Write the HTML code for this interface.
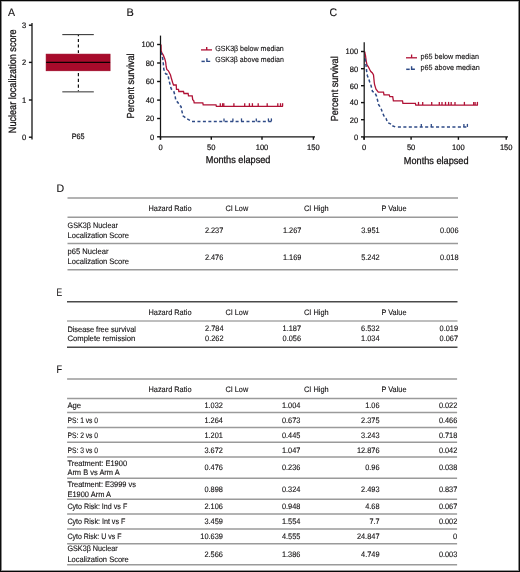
<!DOCTYPE html>
<html><head><meta charset="utf-8"><title>Figure</title>
<style>
html,body{margin:0;padding:0;background:#fff;}
body{width:520px;height:572px;overflow:hidden;}
text{stroke:#141213;stroke-width:0.12px;}
svg{display:block;font-family:"Liberation Sans", sans-serif;will-change:transform;text-rendering:geometricPrecision;}
</style></head>
<body>
<svg width="520" height="572" viewBox="0 0 520 572">
<g shape-rendering="crispEdges"><rect x="0" y="0" width="520" height="572" fill="#fff"/><rect x="1" y="1" width="518" height="1" fill="#b4b4b4"/><rect x="1" y="570" width="518" height="1" fill="#9a9a9a"/><rect x="1" y="1" width="1" height="570" fill="#8a8a8a"/><rect x="518" y="1" width="1" height="570" fill="#8a8a8a"/><rect x="0" y="0" width="520" height="1" fill="#060606"/><rect x="0" y="571" width="520" height="1" fill="#060606"/><rect x="0" y="0" width="1" height="572" fill="#0c0c0c"/><rect x="519" y="0" width="1" height="572" fill="#0c0c0c"/></g>
<text x="8.0" y="15.8" font-size="11.0" textLength="7.04" lengthAdjust="spacingAndGlyphs" fill="#141213">A</text>
<text x="126.4" y="15.8" font-size="11.0" textLength="7.3" lengthAdjust="spacingAndGlyphs" fill="#141213">B</text>
<text x="329.6" y="15.8" font-size="11.0" textLength="7.6" lengthAdjust="spacingAndGlyphs" fill="#141213">C</text>
<text x="56.6" y="192.2" font-size="11.0" textLength="7.66" lengthAdjust="spacingAndGlyphs" fill="#141213">D</text>
<text x="56.6" y="296.4" font-size="11.0" textLength="5.66" lengthAdjust="spacingAndGlyphs" fill="#141213">E</text>
<text x="56.6" y="373.3" font-size="11.0" textLength="5.6" lengthAdjust="spacingAndGlyphs" fill="#141213">F</text>
<line x1="32.0" y1="23.0" x2="32.0" y2="139.4" stroke="#151515" stroke-width="1.3"/>
<line x1="28.9" y1="25.2" x2="32.0" y2="25.2" stroke="#111" stroke-width="1.4"/>
<text x="26.1" y="28.099999999999998" font-size="7.9" text-anchor="end" textLength="4.2" lengthAdjust="spacingAndGlyphs" fill="#141213" style="stroke-width:0.2px">3</text>
<line x1="28.9" y1="62.4" x2="32.0" y2="62.4" stroke="#111" stroke-width="1.4"/>
<text x="26.1" y="65.3" font-size="7.9" text-anchor="end" textLength="4.2" lengthAdjust="spacingAndGlyphs" fill="#141213" style="stroke-width:0.2px">2</text>
<line x1="28.9" y1="100.0" x2="32.0" y2="100.0" stroke="#111" stroke-width="1.4"/>
<text x="26.1" y="102.9" font-size="7.9" text-anchor="end" textLength="4.2" lengthAdjust="spacingAndGlyphs" fill="#141213" style="stroke-width:0.2px">1</text>
<line x1="28.9" y1="137.2" x2="32.0" y2="137.2" stroke="#111" stroke-width="1.4"/>
<text x="26.1" y="140.1" font-size="7.9" text-anchor="end" textLength="4.2" lengthAdjust="spacingAndGlyphs" fill="#141213" style="stroke-width:0.2px">0</text>
<text transform="translate(16.2,81.3) rotate(-90)" x="0" y="0" font-size="10.5" text-anchor="middle" textLength="103.8" lengthAdjust="spacingAndGlyphs" fill="#141213" style="stroke-width:0.28px">Nuclear localization score</text>
<line x1="78.4" y1="34.6" x2="78.4" y2="54.2" stroke="#111" stroke-width="1.2" stroke-dasharray="2.9 2.7" stroke-dashoffset="1.2"/>
<line x1="78.4" y1="70.8" x2="78.4" y2="91.8" stroke="#111" stroke-width="1.2" stroke-dasharray="3.2 2.55" stroke-dashoffset="3.55"/>
<line x1="62.3" y1="34.6" x2="93.8" y2="34.6" stroke="#3a3a3a" stroke-width="1.1"/>
<line x1="62.3" y1="91.8" x2="93.8" y2="91.8" stroke="#6a6a6a" stroke-width="1.4"/>
<rect x="46.1" y="54.1" width="64" height="16.7" fill="#a70b2b" stroke="#9a0020" stroke-width="0.6"/>
<line x1="46.1" y1="62.4" x2="110.1" y2="62.4" stroke="#0a0000" stroke-width="1.2"/>
<text x="78.2" y="139.3" font-size="7.9" text-anchor="middle" textLength="12.9" lengthAdjust="spacingAndGlyphs" fill="#141213" style="stroke-width:0.2px">P65</text>
<text transform="translate(134.3,85.9) rotate(-90)" x="0" y="0" font-size="10.2" text-anchor="middle" textLength="65" lengthAdjust="spacingAndGlyphs" fill="#141213" style="stroke-width:0.28px">Percent survival</text>
<text x="238.1" y="163.1" font-size="10.0" text-anchor="middle" textLength="64.7" lengthAdjust="spacingAndGlyphs" fill="#141213" style="stroke-width:0.28px">Months elapsed</text>
<polyline points="161.00,44.50 161.20,51.00 161.80,52.60 163.40,55.40 164.90,59.20 165.70,62.30 166.10,66.20 166.80,69.40 168.40,70.80 169.50,73.00 170.50,75.00 171.50,78.80 172.70,82.70 173.50,85.00 176.20,85.00 176.50,89.40 178.50,89.40 178.80,91.50 183.50,91.50 184.00,93.50 188.10,93.50 188.50,95.90 192.20,95.90 192.70,99.60 193.80,100.80 194.20,102.80 202.80,102.80 203.20,104.80 216.00,104.80 216.40,106.40 282.90,106.40" fill="none" stroke="#b01236" stroke-width="1.3" stroke-linejoin="miter"/>
<line x1="220.3" y1="106.4" x2="220.3" y2="103.2" stroke="#b01236" stroke-width="1.3"/>
<line x1="222.6" y1="106.4" x2="222.6" y2="103.2" stroke="#b01236" stroke-width="1.3"/>
<line x1="223.8" y1="106.4" x2="223.8" y2="103.2" stroke="#b01236" stroke-width="1.3"/>
<line x1="233.9" y1="106.4" x2="233.9" y2="103.2" stroke="#b01236" stroke-width="1.3"/>
<line x1="244.7" y1="106.4" x2="244.7" y2="103.2" stroke="#b01236" stroke-width="1.3"/>
<line x1="249.4" y1="106.4" x2="249.4" y2="103.2" stroke="#b01236" stroke-width="1.3"/>
<line x1="252.4" y1="106.4" x2="252.4" y2="103.2" stroke="#b01236" stroke-width="1.3"/>
<line x1="258.2" y1="106.4" x2="258.2" y2="103.2" stroke="#b01236" stroke-width="1.3"/>
<line x1="267.2" y1="106.4" x2="267.2" y2="103.2" stroke="#b01236" stroke-width="1.3"/>
<line x1="277.8" y1="106.4" x2="277.8" y2="103.2" stroke="#b01236" stroke-width="1.3"/>
<line x1="280.5" y1="106.4" x2="280.5" y2="103.2" stroke="#b01236" stroke-width="1.3"/>
<line x1="282.6" y1="106.4" x2="282.6" y2="103.2" stroke="#b01236" stroke-width="1.3"/>
<polyline points="192.00,121.40 190.00,120.40 186.50,118.60 183.00,115.80 181.90,111.10 181.00,106.50 178.80,104.60 178.10,102.70 175.80,100.40 175.00,95.40 173.80,91.50 171.20,88.80 170.00,84.20 168.80,79.60 168.00,74.60 165.70,73.80 164.90,72.30 163.80,69.20 163.40,64.60 163.00,60.00 162.20,56.20 161.00,52.20" fill="none" stroke="#2e4a86" stroke-width="1.5" stroke-linejoin="miter" stroke-dasharray="3.1 2.3" stroke-dashoffset="3.1"/>
<line x1="192.0" y1="121.4" x2="271.9" y2="121.4" stroke="#2e4a86" stroke-width="1.5" stroke-dasharray="3.0 2.45"/>
<line x1="224.0" y1="121.4" x2="224.0" y2="118.4" stroke="#2e4a86" stroke-width="1.3"/>
<line x1="232.9" y1="121.4" x2="232.9" y2="118.4" stroke="#2e4a86" stroke-width="1.3"/>
<line x1="241.5" y1="121.4" x2="241.5" y2="118.4" stroke="#2e4a86" stroke-width="1.3"/>
<line x1="256.3" y1="121.4" x2="256.3" y2="118.4" stroke="#2e4a86" stroke-width="1.3"/>
<line x1="268.4" y1="121.4" x2="268.4" y2="118.4" stroke="#2e4a86" stroke-width="1.3"/>
<line x1="271.4" y1="121.4" x2="271.4" y2="118.4" stroke="#2e4a86" stroke-width="1.3"/>
<line x1="160.5" y1="35.6" x2="160.5" y2="139.60000000000002" stroke="#151515" stroke-width="1.25"/>
<line x1="160.5" y1="136.8" x2="315.0" y2="136.8" stroke="#151515" stroke-width="1.25"/>
<line x1="157.1" y1="44.5" x2="160.5" y2="44.5" stroke="#111" stroke-width="1.4"/>
<text x="154.1" y="47.35" font-size="7.9" text-anchor="end" textLength="12.6" lengthAdjust="spacingAndGlyphs" fill="#141213" style="stroke-width:0.2px">100</text>
<line x1="157.1" y1="63.0" x2="160.5" y2="63.0" stroke="#111" stroke-width="1.4"/>
<text x="154.1" y="65.85" font-size="7.9" text-anchor="end" textLength="8.4" lengthAdjust="spacingAndGlyphs" fill="#141213" style="stroke-width:0.2px">80</text>
<line x1="157.1" y1="81.5" x2="160.5" y2="81.5" stroke="#111" stroke-width="1.4"/>
<text x="154.1" y="84.35" font-size="7.9" text-anchor="end" textLength="8.4" lengthAdjust="spacingAndGlyphs" fill="#141213" style="stroke-width:0.2px">60</text>
<line x1="157.1" y1="100.1" x2="160.5" y2="100.1" stroke="#111" stroke-width="1.4"/>
<text x="154.1" y="102.94999999999999" font-size="7.9" text-anchor="end" textLength="8.4" lengthAdjust="spacingAndGlyphs" fill="#141213" style="stroke-width:0.2px">40</text>
<line x1="157.1" y1="118.5" x2="160.5" y2="118.5" stroke="#111" stroke-width="1.4"/>
<text x="154.1" y="121.35" font-size="7.9" text-anchor="end" textLength="8.4" lengthAdjust="spacingAndGlyphs" fill="#141213" style="stroke-width:0.2px">20</text>
<line x1="157.1" y1="136.8" x2="160.5" y2="136.8" stroke="#111" stroke-width="1.4"/>
<text x="154.1" y="139.65" font-size="7.9" text-anchor="end" textLength="4.2" lengthAdjust="spacingAndGlyphs" fill="#141213" style="stroke-width:0.2px">0</text>
<line x1="160.5" y1="136.8" x2="160.5" y2="139.70000000000002" stroke="#111" stroke-width="1.4"/>
<text x="160.5" y="150.1" font-size="7.9" text-anchor="middle" textLength="4.2" lengthAdjust="spacingAndGlyphs" fill="#141213" style="stroke-width:0.2px">0</text>
<line x1="211.3" y1="136.8" x2="211.3" y2="139.70000000000002" stroke="#111" stroke-width="1.4"/>
<text x="211.3" y="150.1" font-size="7.9" text-anchor="middle" textLength="8.4" lengthAdjust="spacingAndGlyphs" fill="#141213" style="stroke-width:0.2px">50</text>
<line x1="262.0" y1="136.8" x2="262.0" y2="139.70000000000002" stroke="#111" stroke-width="1.4"/>
<text x="262.0" y="150.1" font-size="7.9" text-anchor="middle" textLength="12.6" lengthAdjust="spacingAndGlyphs" fill="#141213" style="stroke-width:0.2px">100</text>
<line x1="313.4" y1="136.8" x2="313.4" y2="139.70000000000002" stroke="#111" stroke-width="1.4"/>
<text x="313.4" y="150.1" font-size="7.9" text-anchor="middle" textLength="12.6" lengthAdjust="spacingAndGlyphs" fill="#141213" style="stroke-width:0.2px">150</text>
<line x1="201.0" y1="49.9" x2="212.0" y2="49.9" stroke="#b01236" stroke-width="1.3"/>
<line x1="206.7" y1="49.9" x2="206.7" y2="46.9" stroke="#b01236" stroke-width="1.4"/>
<text x="215.2" y="51.3" font-size="7.6" textLength="68.6" lengthAdjust="spacingAndGlyphs" fill="#141213">GSK3&#946; below median</text>
<line x1="201.5" y1="61.4" x2="204.8" y2="61.4" stroke="#2e4a86" stroke-width="1.5"/>
<polyline points="206.90,58.30 206.90,61.40 210.20,61.40" fill="none" stroke="#2e4a86" stroke-width="1.4" stroke-linejoin="miter"/>
<text x="215.2" y="62.4" font-size="7.6" textLength="68.6" lengthAdjust="spacingAndGlyphs" fill="#141213">GSK3&#946; above median</text>
<text transform="translate(337.9,88.8) rotate(-90)" x="0" y="0" font-size="10.2" text-anchor="middle" textLength="65" lengthAdjust="spacingAndGlyphs" fill="#141213" style="stroke-width:0.28px">Percent survival</text>
<text x="436.2" y="163.5" font-size="10.0" text-anchor="middle" textLength="64.7" lengthAdjust="spacingAndGlyphs" fill="#141213" style="stroke-width:0.28px">Months elapsed</text>
<polyline points="364.70,51.50 364.90,53.00 365.50,55.70 366.20,61.10 367.00,64.90 368.20,66.50 369.70,69.50 370.80,71.50 372.40,73.00 373.50,74.90 373.90,78.80 374.20,82.00 374.60,84.60 376.00,89.20 378.30,92.10 383.50,92.10 384.00,94.80 389.20,94.80 389.80,96.70 392.70,96.70 393.40,100.80 402.50,100.80 402.90,103.30 415.40,103.30 415.80,105.10 477.90,105.10" fill="none" stroke="#b01236" stroke-width="1.3" stroke-linejoin="miter"/>
<line x1="418.5" y1="105.1" x2="418.5" y2="101.9" stroke="#b01236" stroke-width="1.3"/>
<line x1="422.7" y1="105.1" x2="422.7" y2="101.9" stroke="#b01236" stroke-width="1.3"/>
<line x1="431.7" y1="105.1" x2="431.7" y2="101.9" stroke="#b01236" stroke-width="1.3"/>
<line x1="439.3" y1="105.1" x2="439.3" y2="101.9" stroke="#b01236" stroke-width="1.3"/>
<line x1="442.0" y1="105.1" x2="442.0" y2="101.9" stroke="#b01236" stroke-width="1.3"/>
<line x1="445.5" y1="105.1" x2="445.5" y2="101.9" stroke="#b01236" stroke-width="1.3"/>
<line x1="448.6" y1="105.1" x2="448.6" y2="101.9" stroke="#b01236" stroke-width="1.3"/>
<line x1="451.2" y1="105.1" x2="451.2" y2="101.9" stroke="#b01236" stroke-width="1.3"/>
<line x1="455.0" y1="105.1" x2="455.0" y2="101.9" stroke="#b01236" stroke-width="1.3"/>
<line x1="464.4" y1="105.1" x2="464.4" y2="101.9" stroke="#b01236" stroke-width="1.3"/>
<line x1="473.7" y1="105.1" x2="473.7" y2="101.9" stroke="#b01236" stroke-width="1.3"/>
<line x1="475.1" y1="105.1" x2="475.1" y2="101.9" stroke="#b01236" stroke-width="1.3"/>
<line x1="477.4" y1="105.1" x2="477.4" y2="101.9" stroke="#b01236" stroke-width="1.3"/>
<polyline points="395.20,126.90 391.60,125.40 391.30,124.20 387.50,122.50 386.10,118.50 383.80,115.60 382.10,111.50 380.90,108.10 378.60,104.60 377.50,100.00 376.50,96.10 374.80,92.70 372.50,91.50 370.80,84.60 370.10,83.40 368.90,79.50 367.40,75.70 366.60,71.10 366.20,66.50 365.50,61.80 364.70,56.00" fill="none" stroke="#2e4a86" stroke-width="1.5" stroke-linejoin="miter" stroke-dasharray="3.1 2.3"/>
<line x1="397.9" y1="126.9" x2="468.0" y2="126.9" stroke="#2e4a86" stroke-width="1.5" stroke-dasharray="3.05 2.4"/>
<line x1="421.3" y1="126.9" x2="421.3" y2="123.9" stroke="#2e4a86" stroke-width="1.3"/>
<line x1="431.3" y1="126.9" x2="431.3" y2="123.9" stroke="#2e4a86" stroke-width="1.3"/>
<line x1="463.9" y1="126.9" x2="463.9" y2="123.9" stroke="#2e4a86" stroke-width="1.3"/>
<line x1="467.4" y1="126.9" x2="467.4" y2="123.9" stroke="#2e4a86" stroke-width="1.3"/>
<line x1="364.2" y1="42.3" x2="364.2" y2="139.70000000000002" stroke="#151515" stroke-width="1.25"/>
<line x1="364.2" y1="136.9" x2="508.0" y2="136.9" stroke="#151515" stroke-width="1.25"/>
<line x1="361.0" y1="51.5" x2="364.2" y2="51.5" stroke="#111" stroke-width="1.4"/>
<text x="358.2" y="54.35" font-size="7.9" text-anchor="end" textLength="12.6" lengthAdjust="spacingAndGlyphs" fill="#141213" style="stroke-width:0.2px">100</text>
<line x1="361.0" y1="68.7" x2="364.2" y2="68.7" stroke="#111" stroke-width="1.4"/>
<text x="358.2" y="71.55" font-size="7.9" text-anchor="end" textLength="8.4" lengthAdjust="spacingAndGlyphs" fill="#141213" style="stroke-width:0.2px">80</text>
<line x1="361.0" y1="85.7" x2="364.2" y2="85.7" stroke="#111" stroke-width="1.4"/>
<text x="358.2" y="88.55" font-size="7.9" text-anchor="end" textLength="8.4" lengthAdjust="spacingAndGlyphs" fill="#141213" style="stroke-width:0.2px">60</text>
<line x1="361.0" y1="102.6" x2="364.2" y2="102.6" stroke="#111" stroke-width="1.4"/>
<text x="358.2" y="105.44999999999999" font-size="7.9" text-anchor="end" textLength="8.4" lengthAdjust="spacingAndGlyphs" fill="#141213" style="stroke-width:0.2px">40</text>
<line x1="361.0" y1="119.7" x2="364.2" y2="119.7" stroke="#111" stroke-width="1.4"/>
<text x="358.2" y="122.55" font-size="7.9" text-anchor="end" textLength="8.4" lengthAdjust="spacingAndGlyphs" fill="#141213" style="stroke-width:0.2px">20</text>
<line x1="361.0" y1="136.9" x2="364.2" y2="136.9" stroke="#111" stroke-width="1.4"/>
<text x="358.2" y="139.75" font-size="7.9" text-anchor="end" textLength="4.2" lengthAdjust="spacingAndGlyphs" fill="#141213" style="stroke-width:0.2px">0</text>
<line x1="364.0" y1="136.9" x2="364.0" y2="139.8" stroke="#111" stroke-width="1.4"/>
<text x="364.0" y="150.1" font-size="7.9" text-anchor="middle" textLength="4.2" lengthAdjust="spacingAndGlyphs" fill="#141213" style="stroke-width:0.2px">0</text>
<line x1="411.1" y1="136.9" x2="411.1" y2="139.8" stroke="#111" stroke-width="1.4"/>
<text x="411.1" y="150.1" font-size="7.9" text-anchor="middle" textLength="8.4" lengthAdjust="spacingAndGlyphs" fill="#141213" style="stroke-width:0.2px">50</text>
<line x1="458.4" y1="136.9" x2="458.4" y2="139.8" stroke="#111" stroke-width="1.4"/>
<text x="458.4" y="150.1" font-size="7.9" text-anchor="middle" textLength="12.6" lengthAdjust="spacingAndGlyphs" fill="#141213" style="stroke-width:0.2px">100</text>
<line x1="506.2" y1="136.9" x2="506.2" y2="139.8" stroke="#111" stroke-width="1.4"/>
<text x="506.2" y="150.1" font-size="7.9" text-anchor="middle" textLength="12.6" lengthAdjust="spacingAndGlyphs" fill="#141213" style="stroke-width:0.2px">150</text>
<line x1="406.0" y1="57.8" x2="417.0" y2="57.8" stroke="#b01236" stroke-width="1.3"/>
<line x1="411.6" y1="57.8" x2="411.6" y2="54.5" stroke="#b01236" stroke-width="1.3"/>
<text x="420.5" y="59.0" font-size="7.6" textLength="58.4" lengthAdjust="spacingAndGlyphs" fill="#141213">p65 below median</text>
<line x1="406.2" y1="69.3" x2="409.7" y2="69.3" stroke="#2e4a86" stroke-width="1.5"/>
<polyline points="411.60,66.20 411.60,69.30 414.90,69.30" fill="none" stroke="#2e4a86" stroke-width="1.4" stroke-linejoin="miter"/>
<text x="420.5" y="70.4" font-size="7.6" textLength="59.2" lengthAdjust="spacingAndGlyphs" fill="#141213">p65 above median</text>
<line x1="67.5" y1="197.9" x2="458.0" y2="197.9" stroke="#9a9a9a" stroke-width="1.5"/>
<line x1="67.5" y1="217.2" x2="458.0" y2="217.2" stroke="#9a9a9a" stroke-width="1.5"/>
<line x1="67.5" y1="243.4" x2="458.0" y2="243.4" stroke="#9a9a9a" stroke-width="1.5"/>
<line x1="67.5" y1="269.7" x2="458.0" y2="269.7" stroke="#9a9a9a" stroke-width="1.5"/>
<text x="170.0" y="210.7" font-size="7.9" text-anchor="middle" textLength="43.04" lengthAdjust="spacingAndGlyphs" fill="#141213">Hazard Ratio</text>
<text x="236.8" y="210.7" font-size="7.9" text-anchor="middle" textLength="22.72" lengthAdjust="spacingAndGlyphs" fill="#141213">CI Low</text>
<text x="316.3" y="210.7" font-size="7.9" text-anchor="middle" textLength="24.7" lengthAdjust="spacingAndGlyphs" fill="#141213">CI High</text>
<text x="394.0" y="210.7" font-size="7.9" text-anchor="middle" textLength="25.04" lengthAdjust="spacingAndGlyphs" fill="#141213">P Value</text>
<text x="67.6" y="228.1" font-size="7.9" textLength="50.28" lengthAdjust="spacingAndGlyphs" fill="#141213">GSK3&#946; Nuclear</text>
<text x="67.6" y="237.9" font-size="7.9" textLength="61.37" lengthAdjust="spacingAndGlyphs" fill="#141213">Localization Score</text>
<text x="223.3" y="232.9" font-size="7.9" text-anchor="end" textLength="18.41" lengthAdjust="spacingAndGlyphs" fill="#141213">2.237</text>
<text x="301.4" y="232.9" font-size="7.9" text-anchor="end" textLength="18.41" lengthAdjust="spacingAndGlyphs" fill="#141213">1.267</text>
<text x="379.6" y="232.9" font-size="7.9" text-anchor="end" textLength="18.41" lengthAdjust="spacingAndGlyphs" fill="#141213">3.951</text>
<text x="458.5" y="232.9" font-size="7.9" text-anchor="end" textLength="18.41" lengthAdjust="spacingAndGlyphs" fill="#141213">0.006</text>
<text x="67.6" y="254.2" font-size="7.9" textLength="40.83" lengthAdjust="spacingAndGlyphs" fill="#141213">p65 Nuclear</text>
<text x="67.6" y="264.0" font-size="7.9" textLength="61.37" lengthAdjust="spacingAndGlyphs" fill="#141213">Localization Score</text>
<text x="223.3" y="259.6" font-size="7.9" text-anchor="end" textLength="18.41" lengthAdjust="spacingAndGlyphs" fill="#141213">2.476</text>
<text x="301.4" y="259.6" font-size="7.9" text-anchor="end" textLength="18.41" lengthAdjust="spacingAndGlyphs" fill="#141213">1.169</text>
<text x="379.6" y="259.6" font-size="7.9" text-anchor="end" textLength="18.41" lengthAdjust="spacingAndGlyphs" fill="#141213">5.242</text>
<text x="458.5" y="259.6" font-size="7.9" text-anchor="end" textLength="18.41" lengthAdjust="spacingAndGlyphs" fill="#141213">0.018</text>
<line x1="67.0" y1="301.8" x2="457.5" y2="301.8" stroke="#4a4a4a" stroke-width="1.4"/>
<line x1="67.0" y1="321.0" x2="457.5" y2="321.0" stroke="#a8a8a8" stroke-width="1.3"/>
<line x1="67.0" y1="347.3" x2="457.5" y2="347.3" stroke="#4a4a4a" stroke-width="1.4"/>
<text x="170.0" y="314.5" font-size="7.9" text-anchor="middle" textLength="43.04" lengthAdjust="spacingAndGlyphs" fill="#141213">Hazard Ratio</text>
<text x="236.8" y="314.5" font-size="7.9" text-anchor="middle" textLength="22.72" lengthAdjust="spacingAndGlyphs" fill="#141213">CI Low</text>
<text x="316.3" y="314.5" font-size="7.9" text-anchor="middle" textLength="24.7" lengthAdjust="spacingAndGlyphs" fill="#141213">CI High</text>
<text x="394.0" y="314.5" font-size="7.9" text-anchor="middle" textLength="25.04" lengthAdjust="spacingAndGlyphs" fill="#141213">P Value</text>
<text x="67.4" y="331.7" font-size="7.9" textLength="68.53" lengthAdjust="spacingAndGlyphs" fill="#141213">Disease free survival</text>
<text x="223.5" y="331.4" font-size="7.9" text-anchor="end" textLength="18.41" lengthAdjust="spacingAndGlyphs" fill="#141213">2.784</text>
<text x="301.0" y="331.4" font-size="7.9" text-anchor="end" textLength="18.41" lengthAdjust="spacingAndGlyphs" fill="#141213">1.187</text>
<text x="379.5" y="331.4" font-size="7.9" text-anchor="end" textLength="18.41" lengthAdjust="spacingAndGlyphs" fill="#141213">6.532</text>
<text x="458.0" y="331.4" font-size="7.9" text-anchor="end" textLength="18.41" lengthAdjust="spacingAndGlyphs" fill="#141213">0.019</text>
<text x="67.4" y="341.3" font-size="7.9" textLength="67.96" lengthAdjust="spacingAndGlyphs" fill="#141213">Complete remission</text>
<text x="223.5" y="341.1" font-size="7.9" text-anchor="end" textLength="18.41" lengthAdjust="spacingAndGlyphs" fill="#141213">0.262</text>
<text x="301.0" y="341.1" font-size="7.9" text-anchor="end" textLength="18.41" lengthAdjust="spacingAndGlyphs" fill="#141213">0.056</text>
<text x="379.5" y="341.1" font-size="7.9" text-anchor="end" textLength="18.41" lengthAdjust="spacingAndGlyphs" fill="#141213">1.034</text>
<text x="458.0" y="341.1" font-size="7.9" text-anchor="end" textLength="18.41" lengthAdjust="spacingAndGlyphs" fill="#141213">0.067</text>
<line x1="67.1" y1="379.1" x2="457.1" y2="379.1" stroke="#9a9a9a" stroke-width="1.5"/>
<line x1="67.1" y1="398.4" x2="457.1" y2="398.4" stroke="#9a9a9a" stroke-width="1.5"/>
<line x1="67.1" y1="412.5" x2="457.1" y2="412.5" stroke="#9a9a9a" stroke-width="1.5"/>
<line x1="67.1" y1="427.4" x2="457.1" y2="427.4" stroke="#9a9a9a" stroke-width="1.5"/>
<line x1="67.1" y1="442.3" x2="457.1" y2="442.3" stroke="#9a9a9a" stroke-width="1.5"/>
<line x1="67.1" y1="457.1" x2="457.1" y2="457.1" stroke="#9a9a9a" stroke-width="1.5"/>
<line x1="67.1" y1="478.3" x2="457.1" y2="478.3" stroke="#9a9a9a" stroke-width="1.5"/>
<line x1="67.1" y1="499.2" x2="457.1" y2="499.2" stroke="#9a9a9a" stroke-width="1.5"/>
<line x1="67.1" y1="514.0" x2="457.1" y2="514.0" stroke="#9a9a9a" stroke-width="1.5"/>
<line x1="67.1" y1="528.9" x2="457.1" y2="528.9" stroke="#9a9a9a" stroke-width="1.5"/>
<line x1="67.1" y1="543.8" x2="457.1" y2="543.8" stroke="#9a9a9a" stroke-width="1.5"/>
<line x1="67.1" y1="564.7" x2="457.1" y2="564.7" stroke="#9a9a9a" stroke-width="1.5"/>
<text x="170.0" y="391.9" font-size="7.9" text-anchor="middle" textLength="43.04" lengthAdjust="spacingAndGlyphs" fill="#141213">Hazard Ratio</text>
<text x="236.8" y="391.9" font-size="7.9" text-anchor="middle" textLength="22.72" lengthAdjust="spacingAndGlyphs" fill="#141213">CI Low</text>
<text x="316.3" y="391.9" font-size="7.9" text-anchor="middle" textLength="24.7" lengthAdjust="spacingAndGlyphs" fill="#141213">CI High</text>
<text x="394.0" y="391.9" font-size="7.9" text-anchor="middle" textLength="25.04" lengthAdjust="spacingAndGlyphs" fill="#141213">P Value</text>
<text x="67.4" y="408.0" font-size="7.9" textLength="13.63" lengthAdjust="spacingAndGlyphs" fill="#141213">Age</text>
<text x="222.9" y="408.0" font-size="7.9" text-anchor="end" textLength="18.41" lengthAdjust="spacingAndGlyphs" fill="#141213">1.032</text>
<text x="300.4" y="408.0" font-size="7.9" text-anchor="end" textLength="18.41" lengthAdjust="spacingAndGlyphs" fill="#141213">1.004</text>
<text x="379.5" y="408.0" font-size="7.9" text-anchor="end" textLength="14.23" lengthAdjust="spacingAndGlyphs" fill="#141213">1.06</text>
<text x="457.3" y="408.0" font-size="7.9" text-anchor="end" textLength="18.41" lengthAdjust="spacingAndGlyphs" fill="#141213">0.022</text>
<text x="67.4" y="422.9" font-size="7.9" textLength="30.73" lengthAdjust="spacingAndGlyphs" fill="#141213">PS: 1 vs 0</text>
<text x="222.9" y="422.9" font-size="7.9" text-anchor="end" textLength="18.41" lengthAdjust="spacingAndGlyphs" fill="#141213">1.264</text>
<text x="300.4" y="422.9" font-size="7.9" text-anchor="end" textLength="18.41" lengthAdjust="spacingAndGlyphs" fill="#141213">0.673</text>
<text x="379.5" y="422.9" font-size="7.9" text-anchor="end" textLength="18.41" lengthAdjust="spacingAndGlyphs" fill="#141213">2.375</text>
<text x="457.3" y="422.9" font-size="7.9" text-anchor="end" textLength="18.41" lengthAdjust="spacingAndGlyphs" fill="#141213">0.466</text>
<text x="67.4" y="437.8" font-size="7.9" textLength="30.73" lengthAdjust="spacingAndGlyphs" fill="#141213">PS: 2 vs 0</text>
<text x="222.9" y="437.8" font-size="7.9" text-anchor="end" textLength="18.41" lengthAdjust="spacingAndGlyphs" fill="#141213">1.201</text>
<text x="300.4" y="437.8" font-size="7.9" text-anchor="end" textLength="18.41" lengthAdjust="spacingAndGlyphs" fill="#141213">0.445</text>
<text x="379.5" y="437.8" font-size="7.9" text-anchor="end" textLength="18.41" lengthAdjust="spacingAndGlyphs" fill="#141213">3.243</text>
<text x="457.3" y="437.8" font-size="7.9" text-anchor="end" textLength="18.41" lengthAdjust="spacingAndGlyphs" fill="#141213">0.718</text>
<text x="67.4" y="452.7" font-size="7.9" textLength="30.73" lengthAdjust="spacingAndGlyphs" fill="#141213">PS: 3 vs 0</text>
<text x="222.9" y="452.7" font-size="7.9" text-anchor="end" textLength="18.41" lengthAdjust="spacingAndGlyphs" fill="#141213">3.672</text>
<text x="300.4" y="452.7" font-size="7.9" text-anchor="end" textLength="18.41" lengthAdjust="spacingAndGlyphs" fill="#141213">1.047</text>
<text x="379.5" y="452.7" font-size="7.9" text-anchor="end" textLength="22.59" lengthAdjust="spacingAndGlyphs" fill="#141213">12.876</text>
<text x="457.3" y="452.7" font-size="7.9" text-anchor="end" textLength="18.41" lengthAdjust="spacingAndGlyphs" fill="#141213">0.042</text>
<text x="67.4" y="465.5" font-size="7.9" textLength="59.67" lengthAdjust="spacingAndGlyphs" fill="#141213">Treatment: E1900</text>
<text x="67.4" y="475.4" font-size="7.9" textLength="52.36" lengthAdjust="spacingAndGlyphs" fill="#141213">Arm B vs Arm A</text>
<text x="222.9" y="470.4" font-size="7.9" text-anchor="end" textLength="18.41" lengthAdjust="spacingAndGlyphs" fill="#141213">0.476</text>
<text x="300.4" y="470.4" font-size="7.9" text-anchor="end" textLength="18.41" lengthAdjust="spacingAndGlyphs" fill="#141213">0.236</text>
<text x="379.5" y="470.4" font-size="7.9" text-anchor="end" textLength="14.23" lengthAdjust="spacingAndGlyphs" fill="#141213">0.96</text>
<text x="457.3" y="470.4" font-size="7.9" text-anchor="end" textLength="18.41" lengthAdjust="spacingAndGlyphs" fill="#141213">0.038</text>
<text x="67.4" y="486.7" font-size="7.9" textLength="68.55" lengthAdjust="spacingAndGlyphs" fill="#141213">Treatment: E3999 vs</text>
<text x="67.4" y="496.7" font-size="7.9" textLength="43.63" lengthAdjust="spacingAndGlyphs" fill="#141213">E1900 Arm A</text>
<text x="222.9" y="491.7" font-size="7.9" text-anchor="end" textLength="18.41" lengthAdjust="spacingAndGlyphs" fill="#141213">0.898</text>
<text x="300.4" y="491.7" font-size="7.9" text-anchor="end" textLength="18.41" lengthAdjust="spacingAndGlyphs" fill="#141213">0.324</text>
<text x="379.5" y="491.7" font-size="7.9" text-anchor="end" textLength="18.41" lengthAdjust="spacingAndGlyphs" fill="#141213">2.493</text>
<text x="457.3" y="491.7" font-size="7.9" text-anchor="end" textLength="18.41" lengthAdjust="spacingAndGlyphs" fill="#141213">0.837</text>
<text x="67.4" y="509.3" font-size="7.9" textLength="59.86" lengthAdjust="spacingAndGlyphs" fill="#141213">Cyto Risk: Ind vs F</text>
<text x="222.9" y="509.3" font-size="7.9" text-anchor="end" textLength="18.41" lengthAdjust="spacingAndGlyphs" fill="#141213">2.106</text>
<text x="300.4" y="509.3" font-size="7.9" text-anchor="end" textLength="18.41" lengthAdjust="spacingAndGlyphs" fill="#141213">0.948</text>
<text x="379.5" y="509.3" font-size="7.9" text-anchor="end" textLength="14.23" lengthAdjust="spacingAndGlyphs" fill="#141213">4.68</text>
<text x="457.3" y="509.3" font-size="7.9" text-anchor="end" textLength="18.41" lengthAdjust="spacingAndGlyphs" fill="#141213">0.067</text>
<text x="67.4" y="523.6" font-size="7.9" textLength="57.96" lengthAdjust="spacingAndGlyphs" fill="#141213">Cyto Risk: Int vs F</text>
<text x="222.9" y="523.6" font-size="7.9" text-anchor="end" textLength="18.41" lengthAdjust="spacingAndGlyphs" fill="#141213">3.459</text>
<text x="300.4" y="523.6" font-size="7.9" text-anchor="end" textLength="18.41" lengthAdjust="spacingAndGlyphs" fill="#141213">1.554</text>
<text x="379.5" y="523.6" font-size="7.9" text-anchor="end" textLength="10.05" lengthAdjust="spacingAndGlyphs" fill="#141213">7.7</text>
<text x="457.3" y="523.6" font-size="7.9" text-anchor="end" textLength="18.41" lengthAdjust="spacingAndGlyphs" fill="#141213">0.002</text>
<text x="67.4" y="538.5" font-size="7.9" textLength="54.07" lengthAdjust="spacingAndGlyphs" fill="#141213">Cyto Risk: U vs F</text>
<text x="222.9" y="538.5" font-size="7.9" text-anchor="end" textLength="22.59" lengthAdjust="spacingAndGlyphs" fill="#141213">10.639</text>
<text x="300.4" y="538.5" font-size="7.9" text-anchor="end" textLength="18.41" lengthAdjust="spacingAndGlyphs" fill="#141213">4.555</text>
<text x="379.5" y="538.5" font-size="7.9" text-anchor="end" textLength="22.59" lengthAdjust="spacingAndGlyphs" fill="#141213">24.847</text>
<text x="457.3" y="538.5" font-size="7.9" text-anchor="end" textLength="4.18" lengthAdjust="spacingAndGlyphs" fill="#141213">0</text>
<text x="67.4" y="551.4" font-size="7.9" textLength="50.28" lengthAdjust="spacingAndGlyphs" fill="#141213">GSK3&#946; Nuclear</text>
<text x="67.4" y="561.6" font-size="7.9" textLength="61.37" lengthAdjust="spacingAndGlyphs" fill="#141213">Localization Score</text>
<text x="222.9" y="556.5" font-size="7.9" text-anchor="end" textLength="18.41" lengthAdjust="spacingAndGlyphs" fill="#141213">2.566</text>
<text x="300.4" y="556.5" font-size="7.9" text-anchor="end" textLength="18.41" lengthAdjust="spacingAndGlyphs" fill="#141213">1.386</text>
<text x="379.5" y="556.5" font-size="7.9" text-anchor="end" textLength="18.41" lengthAdjust="spacingAndGlyphs" fill="#141213">4.749</text>
<text x="457.3" y="556.5" font-size="7.9" text-anchor="end" textLength="18.41" lengthAdjust="spacingAndGlyphs" fill="#141213">0.003</text>
</svg>
</body></html>
